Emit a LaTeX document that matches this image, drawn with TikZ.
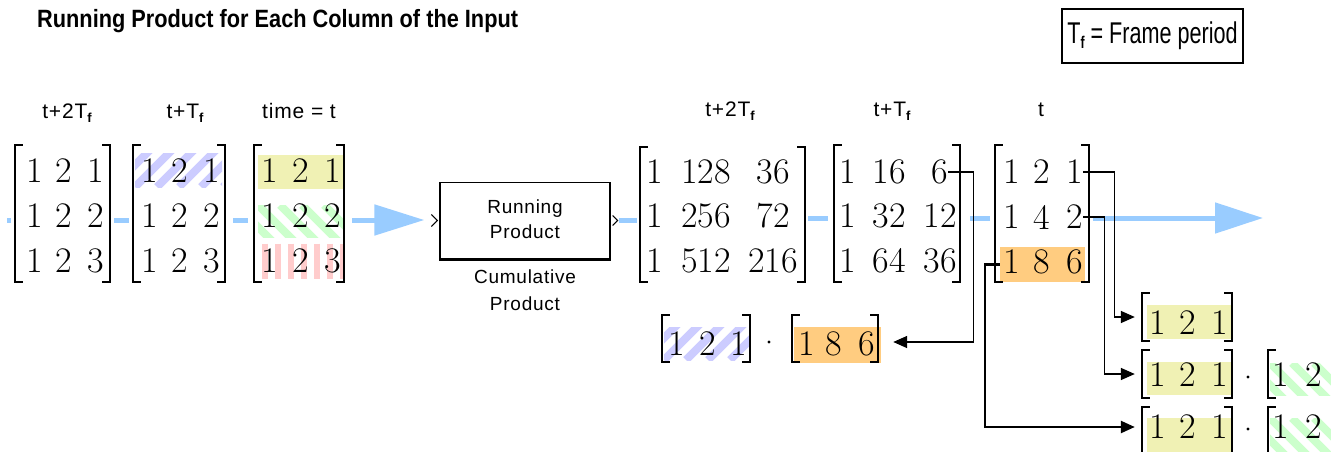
\documentclass[tikz,border=0pt]{standalone}
\usepackage{fontspec}
\usetikzlibrary{arrows.meta,calc}
\newfontfamily\simfont[LetterSpace=4]{Liberation Sans}
\newfontfamily\titlefont[FakeStretch=0.87]{Liberation Sans}
\newfontfamily\narrowfont[FakeStretch=0.72]{Liberation Sans}
\definecolor{flowblue}{RGB}{153,204,255}
\definecolor{hlyellow}{RGB}{240,241,180}
\definecolor{hlorange}{RGB}{255,204,128}
\definecolor{hatchblue}{RGB}{204,204,255}
\definecolor{hatchgreen}{RGB}{204,255,204}
\definecolor{hatchred}{RGB}{255,204,204}
\newcommand\subf{\raisebox{-4pt}{\fontsize{13}{13}\selectfont\bfseries f}}
\newcommand\mylbrk[1]{\draw[brkline] ([xshift=8pt]#1.north west) -- (#1.north west) -- (#1.south west) -- ([xshift=8pt]#1.south west);}
\newcommand\myrbrk[1]{\draw[brkline] ([xshift=-8pt]#1.north east) -- (#1.north east) -- (#1.south east) -- ([xshift=-8pt]#1.south east);}
\tikzset{
  dg/.style={inner sep=0pt, font=\fontsize{36}{40}\selectfont},
  mat/.style={inner sep=0pt, draw=none},
  brkline/.style={line width=1.8pt},
  flow/.style={line width=5pt, draw=flowblue},
  conn/.style={line width=1.5pt, -{Triangle[length=14pt,width=12pt]}},
  hl/.style={inner sep=0pt, draw=none},
  hd/.style={anchor=base, inner sep=0pt, font=\simfont\fontsize{21}{24}\selectfont},
  blkfont/.style={anchor=base, inner sep=0pt, font=\simfont\fontsize{19}{22}\selectfont},
  bluehatch/.style={path picture={\foreach \i in {-44,-22,...,120}{\draw[hatchblue,line width=8pt] ([xshift=\i pt]path picture bounding box.south west) -- ++(50,-50);}}},
  greenhatch/.style={path picture={\foreach \i in {-44,-22,...,120}{\draw[hatchgreen,line width=8pt] ([xshift=\i pt]path picture bounding box.north west) -- ++(50,50);}}},
  redhatch/.style={path picture={\foreach \i in {3,16,...,100}{\draw[hatchred,line width=6pt] ([xshift=\i pt]path picture bounding box.north west) -- ++(0,50);}}},
  dotop/.style={circle, fill=black, inner sep=0pt, minimum size=3.2pt}
}
\begin{document}
\begin{tikzpicture}[x=1pt,y=-1pt]
\useasboundingbox (0,0) rectangle (1331,452);
\clip (0,0) rectangle (1331,452);
\fill[white] (0,0) rectangle (1331,452);

% title and legend
\node[anchor=base west, inner sep=0pt, font=\titlefont\fontsize{25}{30}\selectfont\bfseries] (title) at (37,28) {Running Product for Each Column of the Input};
\node[draw, line width=1.5pt, minimum width=181pt, minimum height=54pt, inner sep=0pt, font=\narrowfont\fontsize{30}{34}\selectfont] (tf) at (1152.5,36) {T\raisebox{-5pt}{\fontsize{17}{17}\selectfont\bfseries f} = Frame period};

% headings
\node[hd] (h1) at (67,118) {t+2T\subf};
\node[hd] (h2) at (185,118) {t+T\subf};
\node[hd] (h3) at (299,118) {time = t};
\node[hd] (h4) at (730,117) {t+2T\subf};
\node[hd] (h5) at (892,117) {t+T\subf};
\node[hd] (h6) at (1041,117) {t};

% highlights
\node[hl, bluehatch, minimum width=87pt, minimum height=34pt] (hb2) at (178.5,170) {};
\node[hl, fill=hlyellow, minimum width=85pt, minimum height=34pt] (hy3) at (300.5,172) {};
\node[hl, greenhatch, minimum width=85pt, minimum height=32pt] (hg3) at (300.5,221) {};
\node[hl, redhatch, minimum width=81pt, minimum height=35pt] (hr3) at (302.5,261) {};
\node[hl, fill=hlorange, minimum width=85pt, minimum height=35pt] (hor3) at (1042.5,264.5) {};
\node[hl, bluehatch, minimum width=86pt, minimum height=33pt] (hbb) at (707,343.5) {};
\node[hl, fill=hlorange, minimum width=87pt, minimum height=36pt] (hor) at (837.5,345) {};
\node[hl, fill=hlyellow, minimum width=86pt, minimum height=34pt] (hyA) at (1190,322) {};
\node[hl, fill=hlyellow, minimum width=86pt, minimum height=33pt] (hyB) at (1190,378.5) {};
\node[hl, fill=hlyellow, minimum width=86pt, minimum height=34pt] (hyC) at (1190,435) {};
\node[hl, greenhatch, minimum width=70pt, minimum height=32pt] (hgB) at (1305,379) {};
\node[hl, greenhatch, minimum width=70pt, minimum height=34pt] (hgC) at (1305,435) {};

% matrix frames
\node[mat, minimum width=95pt, minimum height=137pt] (M1) at (62.5,213.5) {};
\node[mat, minimum width=92pt, minimum height=137pt] (M2) at (179,213.5) {};
\node[mat, minimum width=90pt, minimum height=137pt] (M3) at (299,213.5) {};
\node[mat, minimum width=165pt, minimum height=135pt] (O1) at (722.5,214.5) {};
\node[mat, minimum width=126pt, minimum height=137pt] (O2) at (897,213.5) {};
\node[mat, minimum width=94pt, minimum height=137pt] (O3) at (1042,213.5) {};
\node[mat, minimum width=88pt, minimum height=47pt] (BB) at (706,338.5) {};
\node[mat, minimum width=86pt, minimum height=47pt] (OR) at (835,338.5) {};
\node[mat, minimum width=90pt, minimum height=48pt] (RA) at (1187,317) {};
\node[mat, minimum width=90pt, minimum height=48pt] (RB) at (1187,374) {};
\node[mat, minimum width=90pt, minimum height=48pt] (RC) at (1187,431) {};
\node[mat, minimum width=90pt, minimum height=48pt] (RB2) at (1313,374) {};
\node[mat, minimum width=90pt, minimum height=48pt] (RC2) at (1313,431) {};

% input digits
\foreach \m/\xa/\xb/\xc in {a/35/64/96, b/150/180/212, c/270/301/333}{
  \foreach \r/\y/\v in {1/171/1, 2/216/2, 3/261/3}{
    \node[dg] (m\m-\r-1) at (\xa,\y) {1};
    \node[dg] (m\m-\r-2) at (\xb,\y) {2};
    \node[dg] (m\m-\r-3) at (\xc,\y) {\v};
  }
}
% output digits
\foreach \r/\y/\b/\c in {1/172/128/36, 2/216/256/72, 3/261/512/216}{
  \node[dg] (o1-\r-1) at (655,\y) {1};
  \node[dg] (o1-\r-2) at (706,\y) {\b};
  \node[dg] (o1-\r-3) at (773,\y) {\c};
}
\foreach \r/\y/\b/\c in {1/172/16/6, 2/216/32/12, 3/261/64/36}{
  \node[dg] (o2-\r-1) at (848,\y) {1};
  \node[dg] (o2-\r-2) at (889,\y) {\b};
  \node[dg] (o2-\r-3) at (940,\y) {\c};
}
\foreach \r/\y/\b/\c in {1/172/2/1, 2/217/4/2, 3/262/8/6}{
  \node[dg] (o3-\r-1) at (1012,\y) {1};
  \node[dg] (o3-\r-2) at (1042,\y) {\b};
  \node[dg] (o3-\r-3) at (1075,\y) {\c};
}
% bottom digits
\node[dg] (bb-1) at (677,344) {1};
\node[dg] (bb-2) at (708,344) {2};
\node[dg] (bb-3) at (739,344) {1};
\node[dotop] (dot0) at (769,342) {};
\node[dg] (or-1) at (807,344) {1};
\node[dg] (or-2) at (834,344) {8};
\node[dg] (or-3) at (867,344) {6};
\foreach \n/\y in {A/323, B/375, C/427}{
  \node[dg] (d\n-1) at (1158,\y) {1};
  \node[dg] (d\n-2) at (1188,\y) {2};
  \node[dg] (d\n-3) at (1220,\y) {1};
}
\node[dotop] (dotB) at (1248,377) {};
\node[dotop] (dotC) at (1248,429) {};
\node[dg] (eB-1) at (1281,375) {1};
\node[dg] (eB-2) at (1314,375) {2};
\node[dg] (eC-1) at (1281,427) {1};
\node[dg] (eC-2) at (1314,427) {2};

% brackets
\foreach \n in {M1,M2,M3,O1,O2,O3,BB,OR,RA,RB,RC}{\mylbrk{\n}\myrbrk{\n}}
\mylbrk{RB2}
\mylbrk{RC2}

% block
\node[draw, line width=1.3pt, minimum width=170pt, minimum height=76pt, inner sep=0pt] (blk) at (525,220.5) {};
\draw[line width=3pt] (blk.south west) -- (blk.south east);
\node[blkfont] (bt1) at (525,213) {Running};
\node[blkfont] (bt2) at (525,238) {Product};
\node[blkfont] (cu1) at (525,283) {Cumulative};
\node[blkfont] (cu2) at (525,310) {Product};
\draw[line width=1pt] ([xshift=-8pt,yshift=6pt]blk.west) -- ([xshift=-2pt]blk.west) -- ([xshift=-8pt,yshift=-6pt]blk.west);
\draw[line width=1pt] ([xshift=2pt,yshift=5pt]blk.east) -- ([xshift=7pt]blk.east) -- ([xshift=2pt,yshift=-5pt]blk.east);

% signal flow
\coordinate (fyL) at (0,220);
\coordinate (fyR) at (0,218);
\coordinate (inL) at (7,220);
\coordinate (outR) at (1263,218);
\draw[flow] (inL) -- ($(M1.west |- fyL)+(-4,0)$);
\draw[flow] ($(M1.east |- fyL)+(4,0)$) -- ($(M2.west |- fyL)+(-4,0)$);
\draw[flow] ($(M2.east |- fyL)+(8,0)$) -- ($(M3.west |- fyL)+(-6,0)$);
\draw[flow,-{Triangle[length=50pt,width=30pt]}] ($(M3.east |- fyL)+(8,0)$) -- ($(blk.west |- fyL)+(-15,0)$);
\draw[flow] ($(blk.east |- fyL)+(8,0)$) -- ($(O1.west |- fyL)+(-3,0)$);
\draw[flow] ($(O1.east |- fyR)+(3,0)$) -- ($(O2.west |- fyR)+(-6,0)$);
\draw[flow] ($(O2.east |- fyR)+(10,0)$) -- ($(O3.west |- fyR)+(-5,0)$);
\draw[flow,-{Triangle[length=48pt,width=30pt]}] ($(O3.east |- fyR)+(4,0)$) -- (outR);

% connectors
\draw[conn] (o2-1-3.east) -- ++(25,0) |- ($(OR.east)+(15,3.5)$);
\draw[conn] (o3-1-3.east) -- ++(31,0) |- ($(RA.west)+(-7,0)$);
\draw[conn] (o3-2-3.east) -- ++(21,0) |- ($(RB.west)+(-7,0)$);
\draw[conn, line width=2.4pt] (hor3.west) -- ++(-15,0) |- ($(RC.west |- dC-1)+(-7,0)$);
\end{tikzpicture}
\end{document}
